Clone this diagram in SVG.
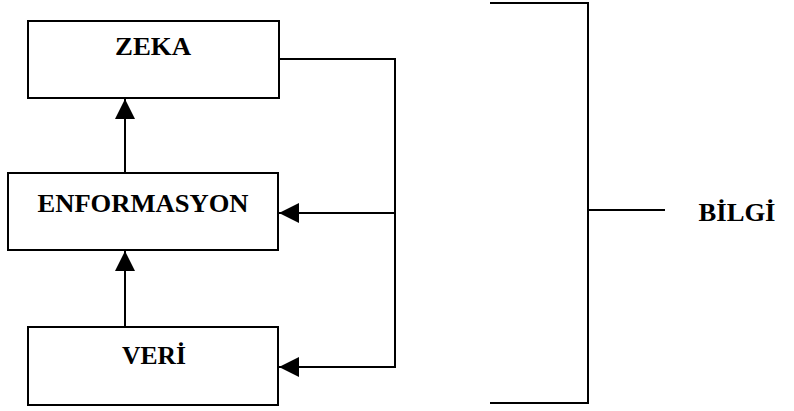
<svg xmlns="http://www.w3.org/2000/svg" width="794" height="411" viewBox="0 0 794 411">
<style>
.box{fill:#fff;stroke:#000;stroke-width:2}
.lbl{font-family:"Liberation Serif","Times New Roman",serif;font-weight:bold;font-size:26px;fill:#000;text-anchor:middle}
.ln{fill:none;stroke:#000;stroke-width:2}
</style>
<defs>
<marker id="ah" viewBox="0 0 20 20" refX="20" refY="10" markerWidth="20" markerHeight="20" markerUnits="userSpaceOnUse" orient="auto">
<path d="M0,0 L20,10 L0,20 Z" fill="#000"/>
</marker>
</defs>
<g id="zeka"><rect class="box" x="28" y="21" width="251" height="77"/><text class="lbl" x="153" y="55" textLength="76" lengthAdjust="spacingAndGlyphs">ZEKA</text></g>
<g id="enformasyon"><rect class="box" x="8" y="173" width="270" height="77"/><text class="lbl" x="143" y="212" textLength="211" lengthAdjust="spacingAndGlyphs">ENFORMASYON</text></g>
<g id="veri"><rect class="box" x="28" y="327" width="250" height="78"/><text class="lbl" x="154" y="364" textLength="64" lengthAdjust="spacingAndGlyphs">VERİ</text></g>
<g id="bilgi"><path class="ln" d="M490,3 H588 V403 H490"/><line class="ln" x1="588" y1="210" x2="665" y2="210"/><text class="lbl" x="737" y="221" textLength="77" lengthAdjust="spacingAndGlyphs">BİLGİ</text></g>
<g id="connectors">
<line class="ln" x1="125" y1="173" x2="125" y2="99" marker-end="url(#ah)"/>
<line class="ln" x1="125" y1="327" x2="125" y2="251" marker-end="url(#ah)"/>
<polyline class="ln" points="279,59 395,59 395,367 279,367" marker-end="url(#ah)"/>
<line class="ln" x1="395" y1="213" x2="279" y2="213" marker-end="url(#ah)"/>
</g>
</svg>
